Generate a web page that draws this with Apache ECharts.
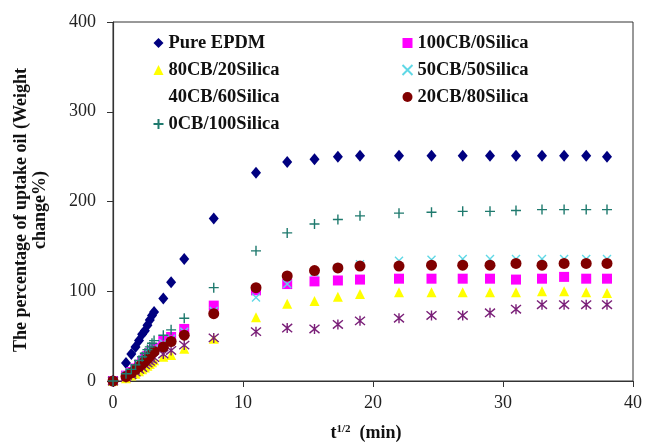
<!DOCTYPE html>
<html>
<head>
<meta charset="utf-8">
<script src="https://cdn.jsdelivr.net/npm/echarts@6/dist/echarts.min.js"></script>
<style>
html,body{margin:0;padding:0;background:#fff;}
#chart{width:645px;height:446px;}
</style>
</head>
<body>
<div id="chart"></div>
<script>
// square root of time (min^1/2)
var tEarly = [0, 1, 1.41, 1.73, 2, 2.24, 2.45, 2.65, 2.83, 3, 3.16, 3.87, 4.47, 5.48, 7.75];
var tLate = [11, 13.4, 15.5, 17.3, 19, 22, 24.5, 26.9, 29, 31, 33, 34.7, 36.4, 38];
var tAll = tEarly.concat(tLate);

var seriesNames = ['Pure EPDM', '100CB/0Silica', '80CB/20Silica', '50CB/50Silica', '40CB/60Silica', '20CB/80Silica', '0CB/100Silica'];

var pureEPDM = [0, 20, 30, 38, 45, 52, 56, 62, 68, 73, 77, 92, 110, 136, 181,
  232, 244, 247, 250, 251, 251, 251, 251, 251, 251, 251, 251, 251, 250];
var cb100 = [0, 6, 10, 14, 18, 21, 25, 28, 31, 34, 37, 45, 49, 58, 84,
  101, 108, 111, 112, 113, 114, 114, 114, 114, 113, 114, 116, 114, 114];
var cb80 = [0, 3, 6, 8, 11, 13, 15, 17, 19, 21, 23, 27, 29, 36, 47,
  71, 86, 89, 94, 97, 99, 99, 99, 99, 99, 100, 100, 99, 98];
var cb50 = [0, 6, 10, 14, 18, 21, 24, 27, 30, 33, 36, 42, 47, 55, 78,
  93, 108, 121, 126, 130, 134, 135, 136, 136, 136, 136, 136, 136, 136];
var cb40 = [0, 4, 7, 10, 13, 15, 18, 20, 22, 24, 26, 30, 34, 40, 48,
  55, 59, 58, 63, 67, 70, 73, 73, 76, 80, 85, 85, 85, 85];
var cb20 = [0, 5, 9, 13, 16, 19, 22, 25, 28, 31, 33, 38, 44, 51, 75,
  104, 117, 123, 126, 128, 128, 129, 129, 129, 131, 129, 131, 131, 131];
var cb0 = [0, 8, 13, 18, 23, 27, 31, 35, 38, 42, 45, 51, 57, 70, 104,
  145, 165, 175, 180, 184, 187, 188, 189, 189, 190, 191, 191, 191, 191];

var xTicks = [0, 10, 20, 30, 40];
var yTicks = [0, 100, 200, 300, 400];

var allValues = [pureEPDM, cb100, cb80, cb50, cb40, cb20, cb0];

function pairs(vals) {
  return tAll.map(function (t, i) { return [t, vals[i]]; });
}

var styles = [
  { symbol: 'diamond', size: [10, 12], color: '#000080' },
  { symbol: 'rect', size: 10, color: '#ff00ff' },
  { symbol: 'triangle', size: 10, color: '#ffff00' },
  { symbol: 'path://M0,0L10,10M10,0L0,10', size: 8, color: 'none', stroke: '#5fd8e6' },
  { symbol: 'path://M0,0L10,10M10,0L0,10M5,-1L5,11', size: 10, color: 'none', stroke: '#7a1f78' },
  { symbol: 'circle', size: 11, color: '#800000' },
  { symbol: 'path://M5,0L5,10M0,5L10,5', size: 10, color: 'none', stroke: '#1f7a6e' }
];

var series = seriesNames.map(function (name, i) {
  var s = styles[i];
  var it = { color: s.color, opacity: 1 };
  if (s.stroke) { it.borderColor = s.stroke; it.borderWidth = 1.4; }
  return {
    name: name,
    type: 'scatter',
    symbol: s.symbol,
    symbolSize: s.size,
    itemStyle: it,
    data: pairs(allValues[i]),
    z: 2 + i
  };
});

var serif = '"Liberation Serif", "Times New Roman", serif';
var legendText = { fontFamily: serif, fontWeight: 'bold', fontSize: 18.5, color: '#111', lineHeight: 20 };

function legendItem(i) {
  var s = styles[i];
  var item = { name: seriesNames[i], icon: s.symbol };
  if (i === 4) item.icon = 'none';
  return item;
}

var chart = echarts.init(document.getElementById('chart'), null, { renderer: 'canvas' });
chart.setOption({
  backgroundColor: '#ffffff',
  animation: false,
  grid: { left: 113, right: 12, top: 22, bottom: 65, show: true, borderColor: '#333', borderWidth: 1, backgroundColor: 'transparent' },
  xAxis: {
    type: 'value', min: xTicks[0], max: xTicks[xTicks.length - 1], interval: 10,
    axisLine: { lineStyle: { color: '#333', width: 1.2 } },
    axisTick: { show: true, length: 6, lineStyle: { color: '#333' } },
    splitLine: { show: false },
    axisLabel: { fontFamily: serif, fontSize: 18, color: '#222', margin: 13 }
  },
  yAxis: {
    type: 'value', min: yTicks[0], max: yTicks[yTicks.length - 1], interval: 100,
    axisLine: { show: true, lineStyle: { color: '#333', width: 1.2 } },
    axisTick: { show: true, length: 6, lineStyle: { color: '#333' } },
    splitLine: { show: false },
    axisLabel: { fontFamily: serif, fontSize: 18, color: '#222', margin: 17 }
  },
  legend: [
    {
      orient: 'vertical', left: 151, top: 33, padding: 0, itemGap: 7,
      itemWidth: 10, itemHeight: 10, textStyle: legendText, selectedMode: false,
      data: [legendItem(0), legendItem(2), legendItem(4), legendItem(6)]
    },
    {
      orient: 'vertical', left: 400, top: 33, padding: 0, itemGap: 7,
      itemWidth: 10, itemHeight: 10, textStyle: legendText, selectedMode: false,
      data: [legendItem(1), legendItem(3), legendItem(5)]
    }
  ],
  graphic: [
    {
      type: 'text', x: 31, y: 210, rotation: Math.PI / 2,
      style: {
        text: 'The percentage of uptake oil (Weight\nchange%)',
        fontFamily: serif, fontWeight: 'bold', fontSize: 18, lineHeight: 19,
        fill: '#111', align: 'center', verticalAlign: 'middle'
      }
    },
    {
      type: 'text', x: 366, y: 433,
      style: {
        text: '{t|t}{s|1/2}{t|  (min)}',
        align: 'center', verticalAlign: 'middle',
        rich: {
          t: { fontFamily: serif, fontWeight: 'bold', fontSize: 18, fill: '#111', color: '#111' },
          s: { fontFamily: serif, fontWeight: 'bold', fontSize: 11, fill: '#111', color: '#111', verticalAlign: 'top', padding: [0, 0, 8, 0] }
        }
      }
    }
  ],
  series: series
});
</script>
</body>
</html>
